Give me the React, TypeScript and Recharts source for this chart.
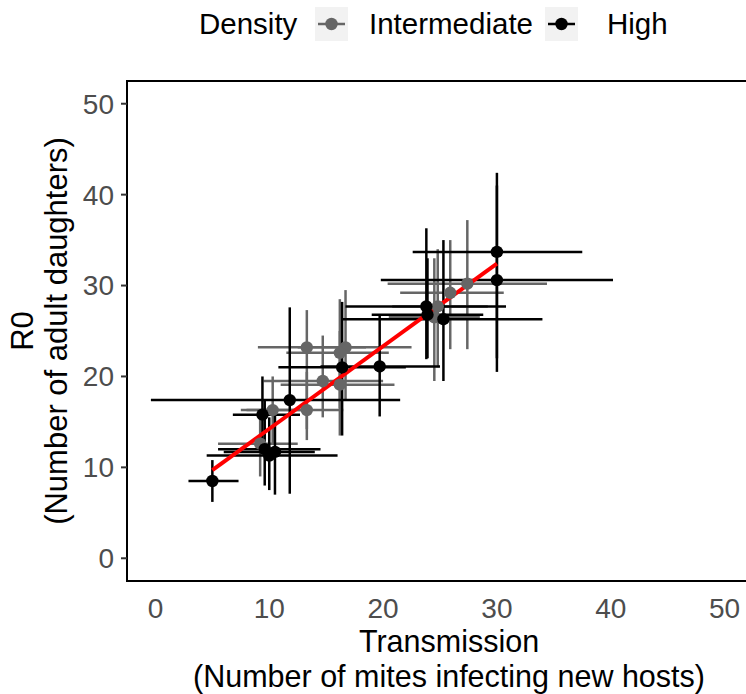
import { ErrorBar, ReferenceArea, ReferenceLine, Scatter, ScatterChart, XAxis, YAxis } from "recharts"

// Intermediate density
const interX = [13.3, 16.7, 16.2, 14.7, 16.2, 13.3, 10.3, 9.2, 25.9, 24.8, 27.4, 24.5]
const interXLo = [9.0, 12.5, 11.5, 9.5, 11.0, 8.0, 7.5, 5.5, 21.5, 20.8, 20.4, 20.5]
const interXHi = [18.5, 22.5, 20.5, 20.0, 21.0, 16.5, 13.0, 12.5, 30.6, 29.2, 34.4, 28.5]
const interY = [23.2, 23.2, 22.6, 19.5, 19.1, 16.3, 16.3, 12.6, 29.2, 27.7, 30.2, 26.5]
const interYLo = [14.2, 17.5, 16.5, 15.5, 13.5, 13.0, 12.5, 9.0, 23.0, 21.0, 23.0, 19.5]
const interYHi = [27.3, 29.5, 28.5, 24.5, 25.0, 20.5, 20.0, 15.5, 35.0, 34.0, 37.2, 33.0]

// High density
const highX = [5.0, 9.6, 10.0, 10.5, 9.4, 11.8, 16.4, 19.7, 23.8, 25.3, 30.0, 30.0, 23.9]
const highXLo = [2.9, 5.5, 4.5, 6.0, 6.8, -0.4, 10.8, 14.5, 16.7, 16.4, 22.6, 19.8, 19.0]
const highXHi = [7.3, 14.5, 16.0, 14.0, 12.7, 21.5, 22.0, 25.0, 30.8, 34.0, 37.5, 40.2, 28.8]
const highY = [8.5, 12.0, 11.3, 11.7, 15.8, 17.4, 21.0, 21.1, 27.7, 26.3, 33.7, 30.6, 26.8]
const highYLo = [6.2, 8.0, 7.5, 7.0, 12.0, 7.1, 13.5, 15.6, 21.9, 19.5, 20.5, 22.0, 22.0]
const highYHi = [10.8, 17.5, 15.5, 16.5, 20.0, 27.6, 28.2, 26.8, 36.3, 35.0, 42.4, 41.0, 33.0]

// regression line end points
const fitX = [5, 30]
const fitY = [9.7, 32.4]

const ticks = [0, 10, 20, 30, 40, 50]
const seriesNames = ["Intermediate", "High"]
const seriesColors = ["#666666", "#000000"]

const FONT = "'Liberation Sans', Arial, sans-serif"

function buildRows(x: number[], xlo: number[], xhi: number[], y: number[], ylo: number[], yhi: number[]) {
  return x.map((xv, i) => ({
    x: xv,
    y: y[i],
    errX: [xv - xlo[i], xhi[i] - xv],
    errY: [y[i] - ylo[i], yhi[i] - y[i]],
  }))
}

const interData = buildRows(interX, interXLo, interXHi, interY, interYLo, interYHi)
const highData = buildRows(highX, highXLo, highXHi, highY, highYLo, highYHi)

const dot = (color: string) => (props: any) => <circle cx={props.cx} cy={props.cy} r={6.2} fill={color} />

function YLabel(props: any) {
  const { y, height } = props.viewBox
  const cy = y + height / 2
  return (
    <g fontFamily={FONT} fontSize={31} fill="#000">
      <text x={22} y={cy} transform={`rotate(-90 22 ${cy})`} textAnchor="middle" dominantBaseline="central">
        R0
      </text>
      <text x={56} y={cy} transform={`rotate(-90 56 ${cy})`} textAnchor="middle" dominantBaseline="central">
        (Number of adult daughters)
      </text>
    </g>
  )
}

function XLabel(props: any) {
  const { x, y, width } = props.viewBox
  const cx = x + width / 2 + 9
  return (
    <g fontFamily={FONT} fontSize={30.5} fill="#000">
      <text x={cx} y={y + 60} textAnchor="middle" dominantBaseline="central">
        Transmission
      </text>
      <text x={cx} y={y + 95} textAnchor="middle" dominantBaseline="central">
        (Number of mites infecting new hosts)
      </text>
    </g>
  )
}

const legendTextLeft = [369, 607]
const legendKeyLeft = [315, 545]

function DensityLegend() {
  const base = { position: "absolute" as const, top: 7, height: 34, display: "flex", alignItems: "center" }
  return (
    <div style={{ fontFamily: FONT, fontSize: 29.5, color: "#000" }}>
      <span style={{ ...base, left: 199 }}>Density</span>
      {seriesNames.map((name, i) => (
        <span key={name}>
          <svg width={33} height={34} style={{ ...base, left: legendKeyLeft[i], background: "#f2f2f2" }}>
            <line x1={3} x2={30} y1={17} y2={17} stroke={seriesColors[i]} strokeWidth={2.5} />
            <circle cx={16.5} cy={17} r={6.2} fill={seriesColors[i]} />
          </svg>
          <span style={{ ...base, left: legendTextLeft[i] }}>{name}</span>
        </span>
      ))}
    </div>
  )
}

export default function App() {
  return (
    <div style={{ position: "relative", width: 746, height: 694, overflow: "hidden", background: "#fff" }}>
      <style>{`body{margin:0}`}</style>
      <DensityLegend />
      <ScatterChart width={746} height={694} margin={{ top: 81, right: -7, bottom: 0, left: 67 }}>
        <XAxis
          type="number"
          dataKey="x"
          domain={[-2.5, 52.5]}
          ticks={ticks}
          allowDataOverflow
          axisLine={false}
          tickLine={false}
          tickSize={0}
          tickMargin={17}
          height={113}
          tick={{ fontFamily: FONT, fontSize: 28, fill: "#4d4d4d" }}
          label={<XLabel />}
        />
        <YAxis
          type="number"
          dataKey="y"
          domain={[-2.5, 52.5]}
          ticks={ticks}
          allowDataOverflow
          axisLine={false}
          tickLine={{ stroke: "#333", strokeWidth: 2 }}
          tickSize={6}
          tickMargin={7}
          width={60}
          tick={{ fontFamily: FONT, fontSize: 28, fill: "#4d4d4d" }}
          label={<YLabel />}
        />
        <Scatter name={seriesNames[0]} data={interData} shape={dot(seriesColors[0])} isAnimationActive={false}>
          <ErrorBar dataKey="errX" direction="x" width={0} stroke={seriesColors[0]} strokeWidth={2.5} />
          <ErrorBar dataKey="errY" direction="y" width={0} stroke={seriesColors[0]} strokeWidth={2.5} />
        </Scatter>
        <Scatter name={seriesNames[1]} data={highData} shape={dot(seriesColors[1])} isAnimationActive={false}>
          <ErrorBar dataKey="errX" direction="x" width={0} stroke={seriesColors[1]} strokeWidth={2.5} />
          <ErrorBar dataKey="errY" direction="y" width={0} stroke={seriesColors[1]} strokeWidth={2.5} />
        </Scatter>
        <ReferenceLine
          segment={[
            { x: fitX[0], y: fitY[0] },
            { x: fitX[1], y: fitY[1] },
          ]}
          stroke="#ff0000"
          strokeWidth={4}
        />
        <ReferenceArea x1={-2.5} x2={52.5} y1={-2.5} y2={52.5} fill="none" fillOpacity={0} stroke="#000" strokeWidth={2} />
      </ScatterChart>
    </div>
  )
}
